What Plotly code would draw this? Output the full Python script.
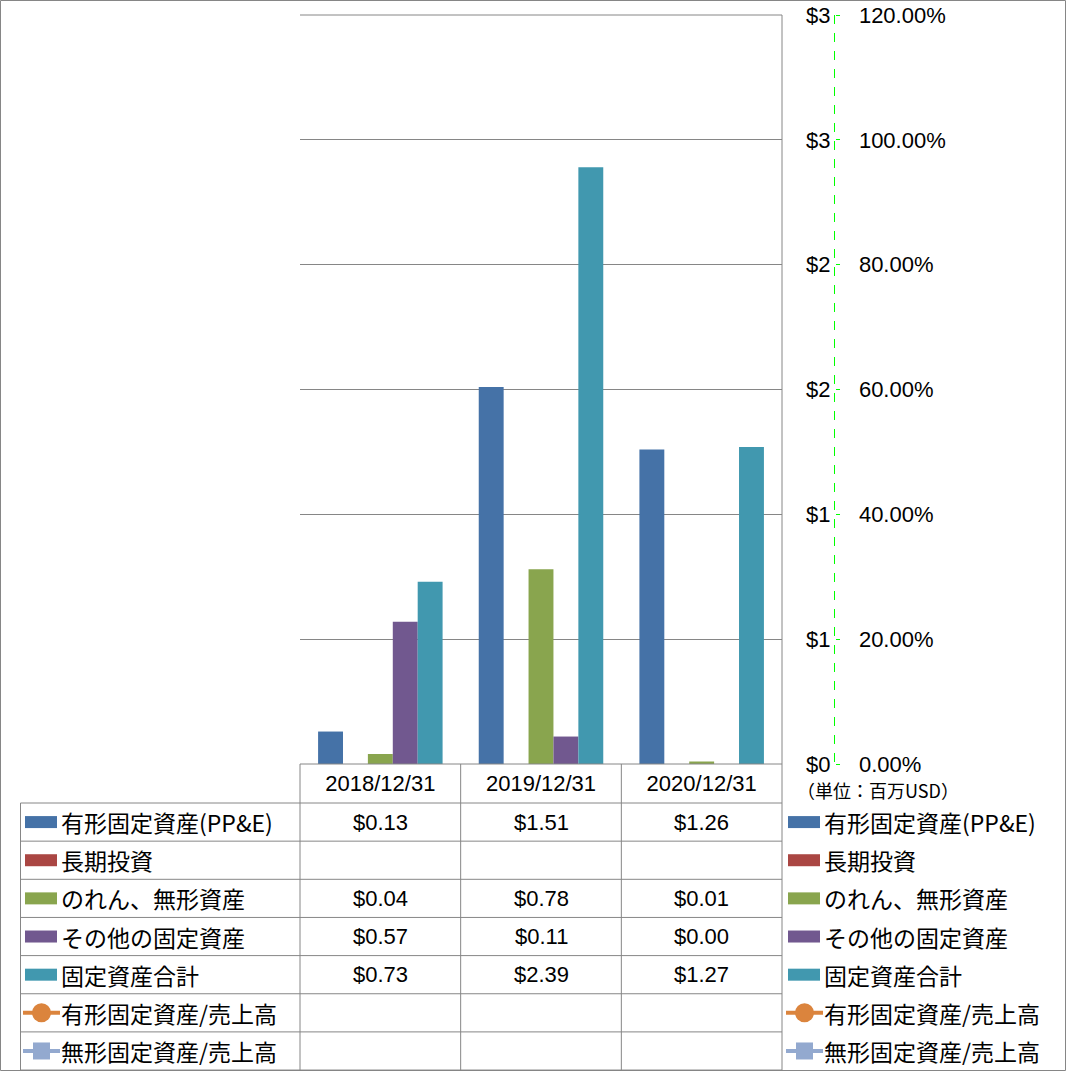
import plotly.graph_objects as go

# ---------------- data ----------------
categories = ["2018/12/31", "2019/12/31", "2020/12/31"]
bar_series = ["有形固定資産(PP&E)", "長期投資", "のれん、無形資産", "その他の固定資産", "固定資産合計"]
ppe = [0.13, 1.51, 1.26]
lt_invest = [None, None, None]
goodwill = [0.04, 0.78, 0.01]
other_fixed = [0.57, 0.11, 0.00]
total_fixed = [0.73, 2.39, 1.27]
line_series = ["有形固定資産/売上高", "無形固定資産/売上高"]
ppe_ratio = [None, None, None]
intangible_ratio = [None, None, None]
unit_label = "（単位：百万USD）"

bar_values = [ppe, lt_invest, goodwill, other_fixed, total_fixed]
bar_colors = ["#4572A7", "#AA4643", "#89A54E", "#71588F", "#4198AF"]
line_values = [ppe_ratio, intangible_ratio]
line_colors = ["#DB843D", "#93A9CF"]
line_symbols = ["circle", "square"]

# ---------------- geometry helpers ----------------
W, H = 1066, 1071
def px(x):
    return x / W
def py(y):
    return 1 - y / H

PLOT_L, PLOT_R, PLOT_T, PLOT_B = 300, 782, 15, 764
ROW_TOP = 803
ROW_H = 38.15
AXIS_X = 834.5
GRID = "#868686"
FONT = "Liberation Sans, Noto Sans CJK JP, sans-serif"
JFONT = "Noto Sans CJK JP, sans-serif"

fig = go.Figure()
for name, vals, col in zip(bar_series, bar_values, bar_colors):
    fig.add_trace(go.Bar(x=categories, y=vals, name=name, marker_color=col,
                         marker_line_width=0, showlegend=False))
for name, vals, col, sym in zip(line_series, line_values, line_colors, line_symbols):
    fig.add_trace(go.Scatter(x=categories, y=vals, name=name, yaxis="y2",
                             mode="lines+markers", line=dict(color=col, width=3),
                             marker=dict(symbol=sym, size=12, color=col), showlegend=False))

shapes = []
annotations = []

def hline(x0, x1, y, color=GRID, width=1, dash="solid"):
    shapes.append(dict(type="line", xref="paper", yref="paper", x0=px(x0), x1=px(x1),
                       y0=py(y), y1=py(y), line=dict(color=color, width=width, dash=dash)))

def vline(x, y0, y1, color=GRID, width=1, dash="solid"):
    shapes.append(dict(type="line", xref="paper", yref="paper", x0=px(x), x1=px(x),
                       y0=py(y0), y1=py(y1), line=dict(color=color, width=width, dash=dash)))

# outer border
shapes.append(dict(type="rect", xref="paper", yref="paper", x0=px(0.5), x1=px(1065.5),
                   y0=py(0.5), y1=py(1070.5), line=dict(color=GRID, width=1)))
# plot area top gridline and right border
hline(PLOT_L, PLOT_R, PLOT_T)
vline(PLOT_R, PLOT_T, PLOT_B)
# secondary axis dashed green line
vline(AXIS_X, PLOT_T, PLOT_B, color="#00FF00", width=1, dash="dash")

# table grid
n_rows = len(bar_series) + len(line_series)
row_lines = [ROW_TOP + ROW_H * i for i in range(n_rows + 1)]
hline(PLOT_L, PLOT_R, PLOT_B)
for y in row_lines:
    hline(20.5, PLOT_R, y)
vline(20.5, ROW_TOP, row_lines[-1])
col_w = (PLOT_R - PLOT_L) / len(categories)
for i in range(len(categories) + 1):
    vline(PLOT_L + col_w * i, PLOT_B, row_lines[-1])

# table rows: legend key + values
all_names = bar_series + line_series
all_values = bar_values + line_values
all_colors = bar_colors + line_colors
for r, (name, vals, col) in enumerate(zip(all_names, all_values, all_colors)):
    yc = ROW_TOP + ROW_H * r + ROW_H / 2
    for kx, tx in ((25, 59), (788, 822)):
        if r < len(bar_series):
            shapes.append(dict(type="rect", xref="paper", yref="paper",
                               x0=px(kx), x1=px(kx + 32), y0=py(yc - 6), y1=py(yc + 6),
                               fillcolor=col, line=dict(width=0)))
        else:
            hline(kx - 2, kx + 35, yc, color=col, width=4)
            cx = kx + 16.5
            if r == len(bar_series):
                shapes.append(dict(type="circle", xref="paper", yref="paper",
                                   x0=px(cx - 9.5), x1=px(cx + 9.5), y0=py(yc - 9.5), y1=py(yc + 9.5),
                                   fillcolor=col, line=dict(width=0)))
            else:
                shapes.append(dict(type="rect", xref="paper", yref="paper",
                                   x0=px(cx - 8.5), x1=px(cx + 8.5), y0=py(yc - 8.5), y1=py(yc + 8.5),
                                   fillcolor=col, line=dict(width=0)))
        annotations.append(dict(xref="paper", yref="paper", x=px(tx), y=py(yc),
                                text=name, showarrow=False, xanchor="left", yanchor="middle",
                                font=dict(family=JFONT, size=23, color="#000000")))
    for c, v in zip(categories, vals):
        if v is None:
            continue
        annotations.append(dict(xref="x", yref="paper", x=c, y=py(yc),
                                text="$%.2f" % v, showarrow=False, xanchor="center", yanchor="middle",
                                font=dict(family=FONT, size=22, color="#000000")))

annotations.append(dict(xref="paper", yref="paper", x=px(795), y=py(790), text=unit_label,
                        showarrow=False, xanchor="left", yanchor="middle",
                        font=dict(family=JFONT, size=18, color="#000000")))

fig.update_layout(
    width=W, height=H,
    margin=dict(l=0, r=0, t=0, b=0, pad=0, autoexpand=False),
    paper_bgcolor="white", plot_bgcolor="white",
    barmode="group", bargap=0.225, bargroupgap=0,
    showlegend=False,
    font=dict(family=FONT, size=22, color="#000000"),
    xaxis=dict(domain=[px(PLOT_L), px(PLOT_R)], type="category", categoryarray=categories,
               range=[-0.5, len(categories) - 0.5], showgrid=False, zeroline=False,
               showline=False, ticks="", tickfont=dict(family=FONT, size=22),
               ticklabelstandoff=4, automargin=False),
    yaxis=dict(domain=[py(PLOT_B), py(PLOT_T)], range=[0, 3], dtick=0.5, tickprefix="$",
               tickformat=".0f", showgrid=True, gridcolor=GRID, gridwidth=1, zeroline=False,
               showline=False, ticks="", anchor="free", position=px(AXIS_X), side="left",
               ticklabelstandoff=4, tickfont=dict(family=FONT, size=22), automargin=False),
    yaxis2=dict(range=[0, 1.2], dtick=0.2, tickformat=".2%", overlaying="y", anchor="free",
                position=px(AXIS_X), side="right", showgrid=False, zeroline=False,
                showline=False, ticks="outside", ticklen=4, tickcolor="#00FF00",
                ticklabelstandoff=15, tickfont=dict(family=FONT, size=22), automargin=False),
    shapes=shapes,
    annotations=annotations,
)

fig.write_html("out.html")
